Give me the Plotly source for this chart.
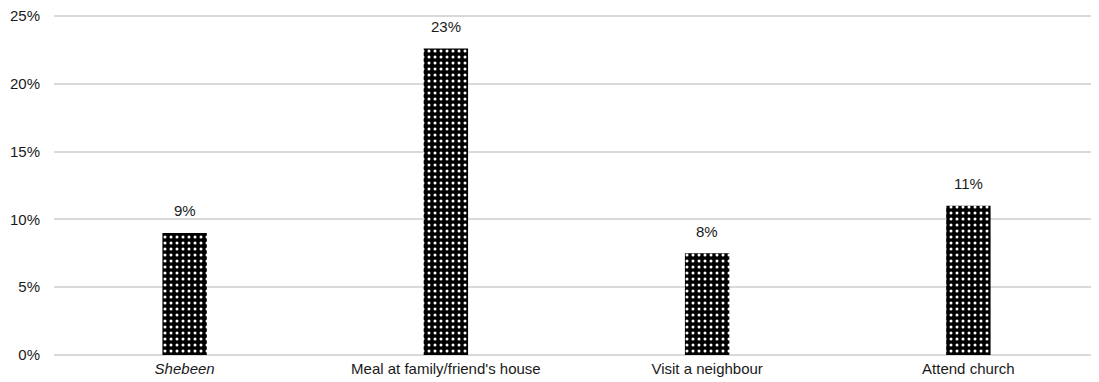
import plotly.graph_objects as go

categories = ["<i>Shebeen</i>", "Meal at family/friend's house", "Visit a neighbour", "Attend church"]
values = [9.0, 22.6, 7.5, 11.0]
labels = ["9%", "23%", "8%", "11%"]
tick_vals = [0, 5, 10, 15, 20, 25]
tick_text = ["0%", "5%", "10%", "15%", "20%", "25%"]

font_family = "Liberation Sans, Arial, sans-serif"
txt = "#1a1a1a"

fig = go.Figure()
fig.add_trace(go.Bar(
    x=categories,
    y=values,
    width=0.17,
    marker=dict(
        color="white",
        line=dict(width=0),
        pattern=dict(shape=".", bgcolor="black", fgcolor="white", size=6, solidity=0.2, fillmode="replace"),
    ),
    hoverinfo="skip",
))

for c, v, t in zip(categories, values, labels):
    fig.add_annotation(x=c, y=v, text=t, showarrow=False, yshift=22,
                       font=dict(family=font_family, size=15, color=txt))

# page body has an 8px default margin; margins compensate for it
fig.update_layout(
    width=1091, height=374,
    margin=dict(l=46, r=0, t=4, b=27),
    paper_bgcolor="white", plot_bgcolor="white",
    showlegend=False,
    font=dict(family=font_family, size=15, color=txt),
)
fig.update_xaxes(showgrid=False, showline=False, ticks="", ticklabelstandoff=3,
                 tickfont=dict(size=15, color=txt))
fig.update_yaxes(range=[0, 25.3], tickvals=tick_vals, ticktext=tick_text,
                 showgrid=True, gridcolor="#d9d9d9", gridwidth=1.5,
                 zeroline=True, zerolinecolor="#d9d9d9", zerolinewidth=1.5,
                 showline=False, ticks="", ticklabelstandoff=13,
                 ticklabeloverflow="allow",
                 tickfont=dict(size=15, color=txt))

fig.write_html("out.html")
